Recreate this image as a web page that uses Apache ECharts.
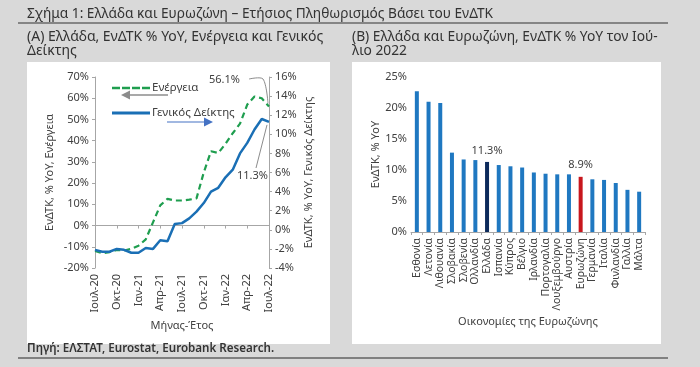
<!DOCTYPE html>
<html><head><meta charset="utf-8">
<script src="https://cdn.jsdelivr.net/npm/echarts@6/dist/echarts.min.js"></script>
<style>html,body{margin:0;padding:0;background:#d9d9d9}#c{width:700px;height:367px}</style>
</head><body><div id="c"></div>
<script>
// ---- Data ----
const months = ['Ιουλ-20','Αυγ-20','Σεπ-20','Οκτ-20','Νοε-20','Δεκ-20','Ιαν-21','Φεβ-21','Μαρ-21','Απρ-21','Μαϊ-21','Ιουν-21','Ιουλ-21','Αυγ-21','Σεπ-21','Οκτ-21','Νοε-21','Δεκ-21','Ιαν-22','Φεβ-22','Μαρ-22','Απρ-22','Μαϊ-22','Ιουν-22','Ιουλ-22'];
const energy = [-12, -13, -12.5, -11.5, -11.8, -11, -9.5, -6.5, 1.5, 9.5, 12.6, 11.8, 11.8, 12.2, 12.8, 25, 35, 34.2, 38.5, 43.5, 48, 57, 60.8, 60, 56.1];
const headline = [-2.1, -2.3, -2.3, -2.0, -2.1, -2.4, -2.4, -1.9, -2.0, -1.1, -1.2, 0.6, 0.7, 1.2, 1.9, 2.8, 4.0, 4.4, 5.5, 6.3, 8.0, 9.1, 10.5, 11.6, 11.3];
const countries = ['Εσθονία','Λετονία','Λιθουανία','Σλοβακία','Σλοβενία','Ολλανδία','Ελλάδα','Ισπανία','Κύπρος','Βέλγιο','Ιρλανδία','Πορτογαλία','Λουξεμβούργο','Αυστρία','Ευρωζώνη','Γερμανία','Ιταλία','Φινλανδία','Γαλλία','Μάλτα'];
const hicpJuly = [22.7, 21.0, 20.8, 12.8, 11.7, 11.6, 11.3, 10.8, 10.6, 10.4, 9.6, 9.4, 9.3, 9.3, 8.9, 8.5, 8.4, 7.9, 6.8, 6.5];
const leftTicks = {min: -20, max: 70, step: 10};
const rightTicks = {min: -4, max: 16, step: 2};
const barTicks = {min: 0, max: 25, step: 5};

const FONT = 'Noto Sans';
const TXT = '#404040';
const AX = '#a6a6a6';
const chart = echarts.init(document.getElementById('c'), null, {renderer: 'canvas'});

const barData = countries.map((c, i) => {
  let color = '#1f78c1';
  if (c === 'Ελλάδα') color = '#0c2a5b';
  if (c === 'Ευρωζώνη') color = '#c8161d';
  const hl = (c === 'Ελλάδα' || c === 'Ευρωζώνη');
  return {value: hicpJuly[i], itemStyle: {color}, label: {show: hl}};
});

const pctFmt = v => v + '%';

chart.setOption({
  backgroundColor: '#d9d9d9',
  textStyle: {fontFamily: FONT, color: TXT},
  animation: false,
  legend: {
    left: 107, top: 77, orient: 'vertical', itemGap: 13, itemWidth: 38, itemHeight: 10,
    textStyle: {fontFamily: FONT, fontSize: 11.5, color: TXT, padding: [0, 0, 0, -3]},
    data: [
      {name: 'Ενέργεια', icon: 'path://M0,4h8v2.4h-8z M10,4h8v2.4h-8z M20,4h8v2.4h-8z M30,4h8v2.4h-8z', itemStyle: {color: '#1f9e4f'}},
      {name: 'Γενικός Δείκτης', icon: 'path://M0,4h38v2.8h-38z', itemStyle: {color: '#1a6fb5'}}
    ]
  },
  grid: [
    {left: 95, right: 431, top: 77, bottom: 99},
    {left: 411, right: 55, top: 77, bottom: 135}
  ],
  xAxis: [
    {gridIndex: 0, type: 'category', data: months, boundaryGap: false,
     axisLine: {show: false, onZero: false}, axisTick: {show: false},
     axisLabel: {rotate: 90, interval: 2, fontSize: 11, color: TXT, fontFamily: FONT, margin: 6},
     name: 'Μήνας-Έτος', nameLocation: 'middle', nameGap: 50, nameTextStyle: {fontSize: 11, color: TXT, fontFamily: FONT}},
    {gridIndex: 0, type: 'category', data: months, boundaryGap: false, position: 'bottom',
     axisLine: {show: true, onZero: true, onZeroAxisIndex: 0, lineStyle: {color: AX}},
     axisTick: {show: true, interval: 2, length: 3, lineStyle: {color: AX}},
     axisLabel: {show: false}},
    {gridIndex: 1, type: 'category', data: countries,
     axisLine: {lineStyle: {color: AX}}, axisTick: {show: true, length: 3, lineStyle: {color: AX}},
     axisLabel: {rotate: 90, interval: 0, fontSize: 10.5, color: TXT, fontFamily: FONT, margin: 6},
     name: 'Οικονομίες της Ευρωζώνης', nameLocation: 'middle', nameGap: 84, nameTextStyle: {fontSize: 11, color: TXT, fontFamily: FONT}}
  ],
  yAxis: [
    {gridIndex: 0, type: 'value', min: leftTicks.min, max: leftTicks.max, interval: leftTicks.step, position: 'left',
     axisLine: {show: true, lineStyle: {color: AX}}, axisTick: {show: true, length: 3, lineStyle: {color: AX}},
     splitLine: {show: false}, axisLabel: {formatter: pctFmt, fontSize: 11, color: TXT, fontFamily: FONT, margin: 6},
     name: 'ΕνΔΤΚ, % YoY, Ενέργεια', nameLocation: 'middle', nameGap: 40, nameRotate: 90,
     nameTextStyle: {fontSize: 11, color: TXT, fontFamily: FONT}},
    {gridIndex: 0, type: 'value', min: rightTicks.min, max: rightTicks.max, interval: rightTicks.step, position: 'right',
     axisLine: {show: true, lineStyle: {color: AX}}, axisTick: {show: true, length: 3, lineStyle: {color: AX}},
     splitLine: {show: false}, axisLabel: {formatter: pctFmt, fontSize: 11, color: TXT, fontFamily: FONT, margin: 6},
     name: 'ΕνΔΤΚ, % YoY, Γενικός Δείκτης', nameLocation: 'middle', nameGap: 34, nameRotate: 90,
     nameTextStyle: {fontSize: 11, color: TXT, fontFamily: FONT}},
    {gridIndex: 1, type: 'value', min: barTicks.min, max: barTicks.max, interval: barTicks.step,
     axisLine: {show: false}, axisTick: {show: false}, splitLine: {show: false},
     axisLabel: {formatter: pctFmt, fontSize: 11, color: TXT, fontFamily: FONT, margin: 4},
     name: 'ΕνΔΤΚ, % YoY', nameLocation: 'middle', nameGap: 30, nameRotate: 90,
     nameTextStyle: {fontSize: 11, color: TXT, fontFamily: FONT}}
  ],
  series: [
    {name: 'Ενέργεια', type: 'line', xAxisIndex: 0, yAxisIndex: 0, data: energy, symbol: 'none',
     lineStyle: {color: '#1f9e4f', width: 2.2, type: [6, 4]}, itemStyle: {color: '#1f9e4f'}, z: 3},
    {name: 'Γενικός Δείκτης', type: 'line', xAxisIndex: 0, yAxisIndex: 1, data: headline, symbol: 'none',
     lineStyle: {color: '#1a6fb5', width: 2.5}, itemStyle: {color: '#1a6fb5'}, z: 4},
    {type: 'bar', xAxisIndex: 2, yAxisIndex: 2, data: barData, barWidth: 4,
     label: {show: false, position: 'top', distance: 6, formatter: p => p.value.toFixed(1) + '%', fontSize: 11, color: TXT, fontFamily: FONT}}
  ]
});

// Annotations & decorations
const pE = chart.convertToPixel({seriesIndex: 0}, [energy.length - 1, energy[energy.length - 1]]);
const pH = chart.convertToPixel({seriesIndex: 1}, [headline.length - 1, headline[headline.length - 1]]);
const txt = (x, y, s, size, opts) => Object.assign({type: 'text', x, y, style: Object.assign({text: s, fill: TXT, font: (opts && opts.weight || 'normal') + ' ' + size + 'px "' + FONT + '"'}, opts && opts.style)}, opts && opts.extra);

chart.setOption({
  graphic: [
    {type: 'rect', shape: {x: 27, y: 62, width: 303, height: 282}, style: {fill: '#fff'}, z: -10},
    {type: 'rect', shape: {x: 352, y: 62, width: 309, height: 282}, style: {fill: '#fff'}, z: -10},
    txt(27, 7, 'Σχήμα 1: Ελλάδα και Ευρωζώνη – Ετήσιος Πληθωρισμός Βάσει του ΕνΔΤΚ', 13.7, {style: {fill: '#333'}}),
    {type: 'line', shape: {x1: 18, y1: 23, x2: 668, y2: 23}, style: {stroke: '#333', lineWidth: 1.2}},
    txt(27, 30, '(A) Ελλάδα, ΕνΔΤΚ % YoY, Ενέργεια και Γενικός', 14, {style: {fill: '#333'}}),
    txt(27, 44, 'Δείκτης', 14, {style: {fill: '#333'}}),
    txt(352, 30, '(B) Ελλάδα και Ευρωζώνη, ΕνΔΤΚ % YoY τον Ιού-', 13.8, {style: {fill: '#333'}}),
    txt(352, 44, 'λιο 2022', 13.8, {style: {fill: '#333'}}),
    txt(27, 343, 'Πηγή: ΕΛΣΤΑΤ, Eurostat, Eurobank Research.', 11.6, {weight: '600', style: {fill: '#333'}}),
    {type: 'line', shape: {x1: 18, y1: 358, x2: 668, y2: 358}, style: {stroke: '#808080', lineWidth: 2}},
    // arrows
    {type: 'line', shape: {x1: 168, y1: 95, x2: 128, y2: 95}, style: {stroke: '#8c8c8c', lineWidth: 1.5}},
    {type: 'polygon', shape: {points: [[121, 95], [130, 90.5], [130, 99.5]]}, style: {fill: '#8c8c8c'}},
    {type: 'line', shape: {x1: 167, y1: 122, x2: 205, y2: 122}, style: {stroke: '#4472c4', lineWidth: 1.2}},
    {type: 'polygon', shape: {points: [[213, 122], [204, 117.5], [204, 126.5]]}, style: {fill: '#4472c4'}},
    // 56.1% annotation
    txt(pE[0] - 60, 74, '56.1%', 11),
    {type: 'polyline', shape: {points: [[pE[0] - 20, 79], [pE[0] - 6, 79], [pE[0] - 1, pE[1] - 3]], smooth: 0.3}, style: {stroke: '#8c8c8c', lineWidth: 1, fill: null}},
    // 11.3% annotation
    txt(pH[0] - 32, 170, '11.3%', 11),
    {type: 'line', shape: {x1: pH[0] - 13, y1: 168, x2: pH[0] - 2, y2: pH[1] + 3}, style: {stroke: '#8c8c8c', lineWidth: 1}}
  ]
});
</script></body></html>
